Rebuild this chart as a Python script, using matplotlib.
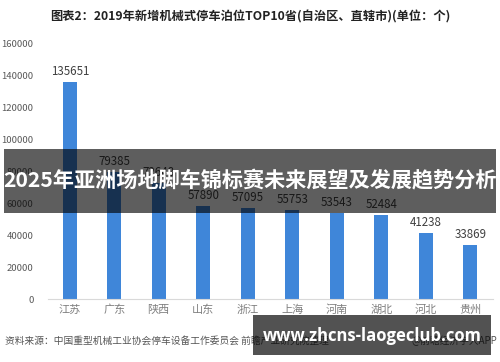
import matplotlib
matplotlib.use("Agg")
import matplotlib.pyplot as plt
from matplotlib.patches import Rectangle

plt.rcParams['font.family'] = ['Noto Sans CJK SC', 'DejaVu Sans']

categories = ["江苏", "广东", "陕西", "山东", "浙江", "上海", "河南", "湖北", "河北", "贵州"]
values = [135651, 79385, 72648, 57890, 57095, 55753, 53543, 52484, 41238, 33869]
yticks = [0, 20000, 40000, 60000, 80000, 100000, 120000, 140000, 160000]

title = "图表2：2019年新增机械式停车泊位TOP10省(自治区、直辖市)(单位：个)"
source = "资料来源：中国重型机械工业协会停车设备工作委员会 前瞻产业研究院整理"
credit = "@前瞻经济学人APP"
banner = "2025年亚洲场地脚车锦标赛未来展望及发展趋势分析"
url = "www.zhcns-laogeclub.com"

fig = plt.figure(figsize=(5, 3.62), dpi=100)
ax = fig.add_axes([0.095, 0.174, 0.89, 0.707])
x = list(range(len(categories)))
ax.bar(x, values, width=0.31, color="#3F86D9", zorder=2)
for xi, v in zip(x, values):
    ax.text(xi, v + 2500, str(v), ha="center", va="bottom", fontsize=8.3, color="#404040")
ax.set_xlim(-0.5, len(categories) - 0.5)
ax.set_ylim(0, 160000)
ax.set_yticks(yticks)
ax.set_yticklabels([str(t) for t in yticks], fontsize=6.8, color="#595959")
ax.set_xticks(x)
ax.set_xticklabels(categories, fontsize=8, color="#7f7f7f")
ax.tick_params(axis="both", length=0)
ax.tick_params(axis="y", pad=10)
ax.tick_params(axis="x", pad=4)
for s in ["top", "right", "left"]:
    ax.spines[s].set_visible(False)
ax.spines["bottom"].set_color("#d9d9d9")
ax.spines["bottom"].set_linewidth(0.8)

fig.text(0.5, 0.952, title, ha="center", va="center", fontsize=8.8, fontweight="bold", color="#222222")
fig.text(0.01, 0.058, source, ha="left", va="center", fontsize=7, color="#555555")
fig.text(0.995, 0.058, credit, ha="right", va="center", fontsize=7, color="#555555")

# overlay banners
fig.patches.append(Rectangle((0.008, 1 - 213 / 362), 0.984, 64 / 362, transform=fig.transFigure,
                             facecolor="black", alpha=0.63, edgecolor="none", zorder=5))
fig.text(0.5, 1 - 181 / 362, banner, ha="center", va="center", fontsize=15.2, fontweight="bold",
         color="white", zorder=6)
fig.patches.append(Rectangle((253 / 500, 1 - 355 / 362), 238 / 500, 40 / 362, transform=fig.transFigure,
                             facecolor="black", alpha=0.68, edgecolor="none", zorder=5))
fig.text(372 / 500, 1 - 336 / 362, url, ha="center", va="center", fontsize=12, fontweight="bold",
         color="white", family=["Open Sans", "DejaVu Sans"], zorder=6)

fig.savefig("out.png", dpi=100)
